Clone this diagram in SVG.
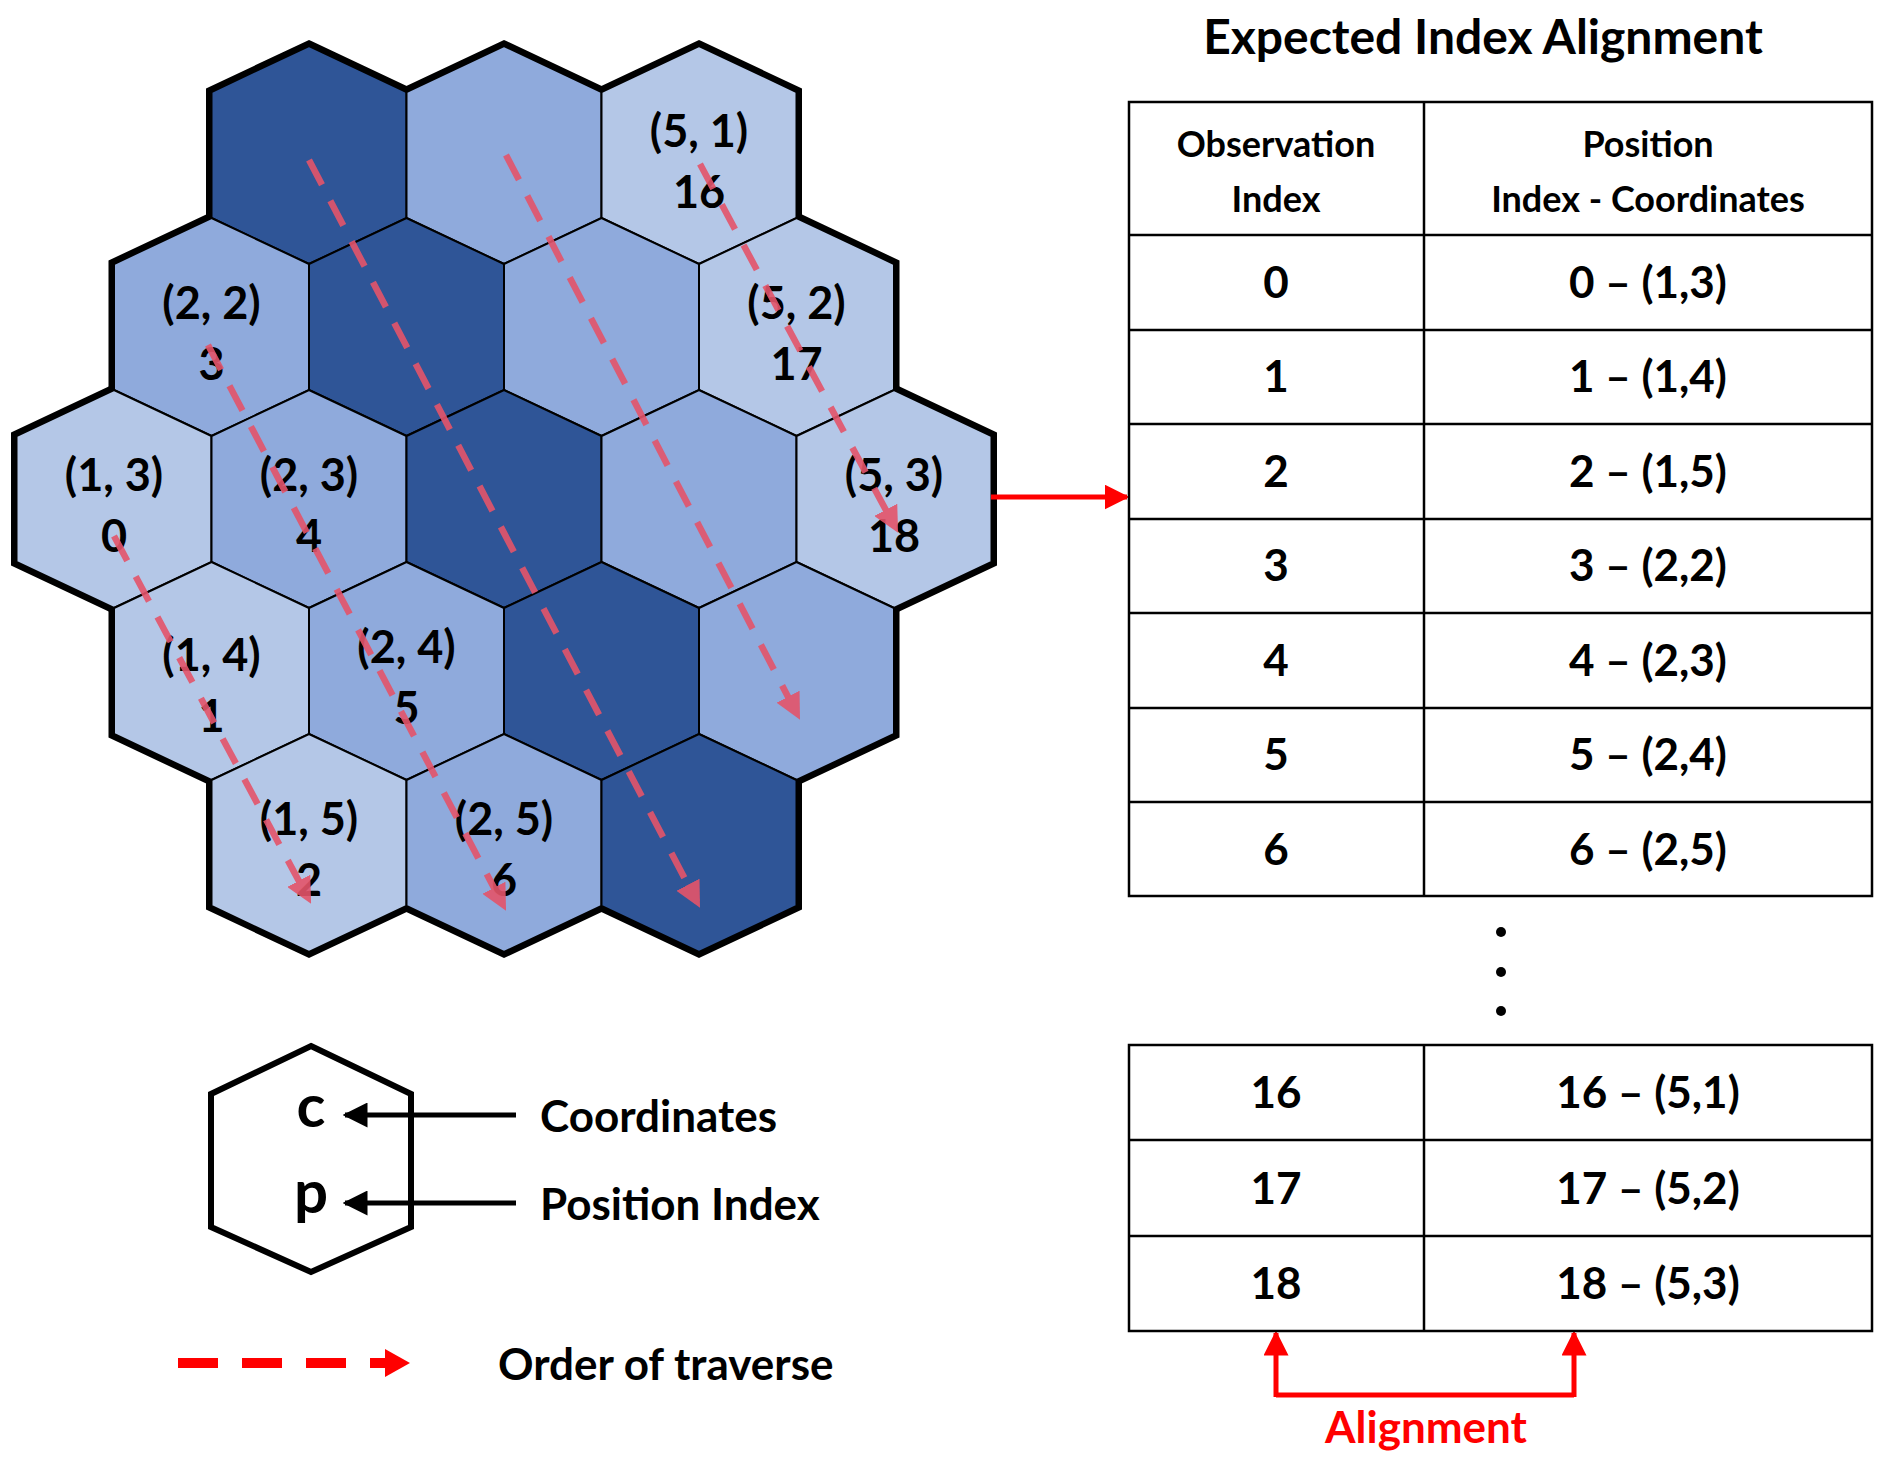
<svg xmlns="http://www.w3.org/2000/svg" width="1890" height="1461" viewBox="0 0 1890 1461">
<style>
text{font-family:Lato,"Liberation Sans",sans-serif;font-weight:bold;fill:#000;text-anchor:middle}
.hx{font-size:45px}
.th{font-size:36px}
.tc{font-size:44px}
.lg{font-size:44px;text-anchor:start}
.dk{fill:#2F5597}.md{fill:#8FAADC}.lt{fill:#B4C7E7}
.in{stroke:#000;stroke-width:2}
.bd{fill:#000;stroke:#000;stroke-width:11;stroke-linejoin:miter}
.tr{stroke:#E4546A;stroke-width:6.5;stroke-dasharray:28 18;fill:none;opacity:0.9}
.tb{fill:none;stroke:#000;stroke-width:2.5}
</style>
<defs>
<polygon id="hex" points="0,-109 97.5,-63 97.5,63 0,109 -97.5,63 -97.5,-63"/>
<marker id="ah" markerWidth="4" markerHeight="4" refX="3" refY="2" orient="auto" markerUnits="strokeWidth"><path d="M0,0 L4,2 L0,4 z" fill="#E4546A"/></marker>
<marker id="rh" markerWidth="5" markerHeight="5" refX="4.5" refY="2.5" orient="auto" markerUnits="strokeWidth"><path d="M0,0 L5,2.5 L0,5 z" fill="#FF0000"/></marker>
<marker id="bh" markerWidth="5" markerHeight="5" refX="4.5" refY="2.5" orient="auto" markerUnits="strokeWidth"><path d="M0,0 L5,2.5 L0,5 z" fill="#000"/></marker>
</defs>
<g id="border">
<use href="#hex" class="bd" x="309" y="155"/><use href="#hex" class="bd" x="504" y="155"/><use href="#hex" class="bd" x="699" y="155"/>
<use href="#hex" class="bd" x="211.5" y="327"/><use href="#hex" class="bd" x="406.5" y="327"/><use href="#hex" class="bd" x="601.5" y="327"/><use href="#hex" class="bd" x="796.5" y="327"/>
<use href="#hex" class="bd" x="114" y="499"/><use href="#hex" class="bd" x="309" y="499"/><use href="#hex" class="bd" x="504" y="499"/><use href="#hex" class="bd" x="699" y="499"/><use href="#hex" class="bd" x="894" y="499"/>
<use href="#hex" class="bd" x="211.5" y="671"/><use href="#hex" class="bd" x="406.5" y="671"/><use href="#hex" class="bd" x="601.5" y="671"/><use href="#hex" class="bd" x="796.5" y="671"/>
<use href="#hex" class="bd" x="309" y="843"/><use href="#hex" class="bd" x="504" y="843"/><use href="#hex" class="bd" x="699" y="843"/>
</g>
<g id="h00"><use href="#hex" class="dk in" x="309" y="155"/></g>
<g id="h01"><use href="#hex" class="md in" x="504" y="155"/></g>
<g id="h51"><use href="#hex" class="lt in" x="699" y="155"/><text class="hx" x="699" y="147">(5, 1)</text><text class="hx" x="699" y="208">16</text></g>
<g id="h22"><use href="#hex" class="md in" x="211.5" y="327"/><text class="hx" x="211.5" y="319">(2, 2)</text><text class="hx" x="211.5" y="380">3</text></g>
<g id="h11"><use href="#hex" class="dk in" x="406.5" y="327"/></g>
<g id="h12"><use href="#hex" class="md in" x="601.5" y="327"/></g>
<g id="h52"><use href="#hex" class="lt in" x="796.5" y="327"/><text class="hx" x="796.5" y="319">(5, 2)</text><text class="hx" x="796.5" y="380">17</text></g>
<g id="h13"><use href="#hex" class="lt in" x="114" y="499"/><text class="hx" x="114" y="491">(1, 3)</text><text class="hx" x="114" y="552">0</text></g>
<g id="h23"><use href="#hex" class="md in" x="309" y="499"/><text class="hx" x="309" y="491">(2, 3)</text><text class="hx" x="309" y="552">4</text></g>
<g id="h33"><use href="#hex" class="dk in" x="504" y="499"/></g>
<g id="h43"><use href="#hex" class="md in" x="699" y="499"/></g>
<g id="h53"><use href="#hex" class="lt in" x="894" y="499"/><text class="hx" x="894" y="491">(5, 3)</text><text class="hx" x="894" y="552">18</text></g>
<g id="h14"><use href="#hex" class="lt in" x="211.5" y="671"/><text class="hx" x="211.5" y="671">(1, 4)</text><text class="hx" x="211.5" y="732">1</text></g>
<g id="h24"><use href="#hex" class="md in" x="406.5" y="671"/><text class="hx" x="406.5" y="663">(2, 4)</text><text class="hx" x="406.5" y="724">5</text></g>
<g id="h34"><use href="#hex" class="dk in" x="601.5" y="671"/></g>
<g id="h44"><use href="#hex" class="md in" x="796.5" y="671"/></g>
<g id="h15"><use href="#hex" class="lt in" x="309" y="843"/><text class="hx" x="309" y="835">(1, 5)</text><text class="hx" x="309" y="896">2</text></g>
<g id="h25"><use href="#hex" class="md in" x="504" y="843"/><text class="hx" x="504" y="835">(2, 5)</text><text class="hx" x="504" y="896">6</text></g>
<g id="h35"><use href="#hex" class="dk in" x="699" y="843"/></g>
<g id="connectors">
<line class="tr" x1="114" y1="536" x2="308" y2="898" marker-end="url(#ah)"/>
<line class="tr" x1="208" y1="345" x2="503" y2="905" marker-end="url(#ah)"/>
<line class="tr" x1="309" y1="160" x2="697" y2="902" marker-end="url(#ah)"/>
<line class="tr" x1="506" y1="155" x2="797" y2="714" marker-end="url(#ah)"/>
<line class="tr" x1="700" y1="164" x2="895" y2="527" marker-end="url(#ah)"/>
<line x1="991" y1="497" x2="1127" y2="497" stroke="#FF0000" stroke-width="5" marker-end="url(#rh)"/>
<polyline points="1276,1395 1574,1395" fill="none" stroke="#FF0000" stroke-width="5"/>
<line x1="1276" y1="1397" x2="1276" y2="1333" stroke="#FF0000" stroke-width="5" marker-end="url(#rh)"/>
<line x1="1574" y1="1397" x2="1574" y2="1333" stroke="#FF0000" stroke-width="5" marker-end="url(#rh)"/>
<line x1="516" y1="1115" x2="345" y2="1115" stroke="#000" stroke-width="5" marker-end="url(#bh)"/>
<line x1="516" y1="1203" x2="345" y2="1203" stroke="#000" stroke-width="5" marker-end="url(#bh)"/>
<line x1="178" y1="1363" x2="385" y2="1363" stroke="#FF0000" stroke-width="10" stroke-dasharray="40 24"/>
<polygon points="385,1349 410,1363 385,1377" fill="#FF0000"/>
</g>
<g id="legend-hex"><polygon points="311,1046 411,1094 411,1227 311,1272 211,1227 211,1094" fill="none" stroke="#000" stroke-width="6"/><text x="311" y="1127" style="font-size:60px">c</text><text x="311" y="1213" style="font-size:60px">p</text></g>
<g id="legend-text"><text class="lg" x="540" y="1132">Coordinates</text><text class="lg" x="540" y="1220">Position Index</text><text class="lg" x="498" y="1380">Order of traverse</text></g>
<g id="table">
<text x="1483" y="54" style="font-size:48px">Expected Index Alignment</text>
<rect class="tb" x="1129" y="102" width="743" height="794"/>
<line class="tb" x1="1424" y1="102" x2="1424" y2="896"/>
<line class="tb" x1="1129" y1="235" x2="1872" y2="235"/>
<line class="tb" x1="1129" y1="330" x2="1872" y2="330"/>
<line class="tb" x1="1129" y1="424" x2="1872" y2="424"/>
<line class="tb" x1="1129" y1="519" x2="1872" y2="519"/>
<line class="tb" x1="1129" y1="613" x2="1872" y2="613"/>
<line class="tb" x1="1129" y1="708" x2="1872" y2="708"/>
<line class="tb" x1="1129" y1="802" x2="1872" y2="802"/>
<text class="th" x="1276" y="157">Observation</text><text class="th" x="1276" y="212">Index</text>
<text class="th" x="1648" y="157">Position</text><text class="th" x="1648" y="212">Index - Coordinates</text>
<text class="tc" x="1276" y="298">0</text><text class="tc" x="1648" y="298">0 – (1,3)</text>
<text class="tc" x="1276" y="392">1</text><text class="tc" x="1648" y="392">1 – (1,4)</text>
<text class="tc" x="1276" y="487">2</text><text class="tc" x="1648" y="487">2 – (1,5)</text>
<text class="tc" x="1276" y="581">3</text><text class="tc" x="1648" y="581">3 – (2,2)</text>
<text class="tc" x="1276" y="676">4</text><text class="tc" x="1648" y="676">4 – (2,3)</text>
<text class="tc" x="1276" y="770">5</text><text class="tc" x="1648" y="770">5 – (2,4)</text>
<text class="tc" x="1276" y="865">6</text><text class="tc" x="1648" y="865">6 – (2,5)</text>
<circle cx="1501" cy="932" r="5"/><circle cx="1501" cy="972" r="5"/><circle cx="1501" cy="1011" r="5"/>
<rect class="tb" x="1129" y="1045" width="743" height="286"/>
<line class="tb" x1="1424" y1="1045" x2="1424" y2="1331"/>
<line class="tb" x1="1129" y1="1140" x2="1872" y2="1140"/>
<line class="tb" x1="1129" y1="1236" x2="1872" y2="1236"/>
<text class="tc" x="1276" y="1108">16</text><text class="tc" x="1648" y="1108">16 – (5,1)</text>
<text class="tc" x="1276" y="1204">17</text><text class="tc" x="1648" y="1204">17 – (5,2)</text>
<text class="tc" x="1276" y="1299">18</text><text class="tc" x="1648" y="1299">18 – (5,3)</text>
<text x="1426" y="1443" style="font-size:44px;fill:#FF0000">Alignment</text>
</g>
</svg>
